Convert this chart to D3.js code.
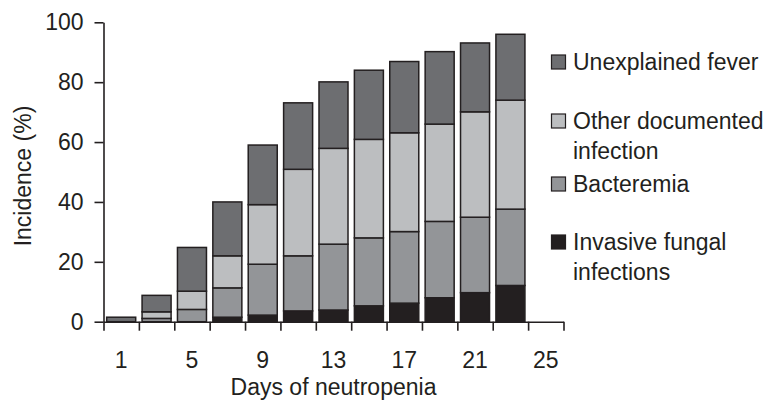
<!DOCTYPE html>
<html>
<head>
<meta charset="utf-8">
<script src="https://cdn.jsdelivr.net/npm/d3@7"></script>
<style>
  html, body { margin: 0; padding: 0; background: #ffffff; }
  svg { display: block; }
  text { font-family: "Liberation Sans", Arial, sans-serif; fill: #231f20; }
</style>
</head>
<body>
<svg id="chart" width="767" height="401"></svg>
<script>
// Days of neutropenia (one bar every other day; day 25 has no bar)
const days = [1, 3, 5, 7, 9, 11, 13, 15, 17, 19, 21, 23, 25];
const barDays = [1, 3, 5, 7, 9, 11, 13, 15, 17, 19, 21, 23];
const dayLabels = [1, 5, 9, 13, 17, 21, 25];

// Incidence (%) contributed by each cause, stacked bottom to top
const fungal     = [0,   0,   0,    1.5,  2.2,  3.6,  3.9,  5.3,  6.2,  8.0,  9.7,  12.1];
const bacteremia = [0,   1.1, 4.1,  9.8,  17.0, 18.4, 22.0, 22.7, 23.9, 25.5, 25.2, 25.5];
const otherInf   = [0,   2.2, 6.1,  10.7, 19.9, 28.9, 32.0, 32.9, 33.0, 32.5, 35.2, 36.4];
const fever      = [1.5, 5.5, 14.6, 18.0, 19.9, 22.2, 22.2, 23.1, 23.8, 24.2, 23.0, 22.0];

const yTicks = [0, 20, 40, 60, 80, 100];

const seriesKeys = ["fungal", "bacteremia", "other", "fever"];
const seriesColors = {
  fungal: "#231f20",
  bacteremia: "#939598",
  other: "#bcbec0",
  fever: "#6d6e71"
};
const legendItems = [
  { key: "fever", lines: ["Unexplained fever"], y: 62 },
  { key: "other", lines: ["Other documented", "infection"], y: 121 },
  { key: "bacteremia", lines: ["Bacteremia"], y: 184 },
  { key: "fungal", lines: ["Invasive fungal", "infections"], y: 242 }
];

const rows = barDays.map((d, i) => ({
  day: d,
  fungal: fungal[i],
  bacteremia: bacteremia[i],
  other: otherInf[i],
  fever: fever[i]
}));

const svg = d3.select("#chart");
const ink = "#231f20";
const fontSize = 23;

const x0 = 103.5, x1 = 563.5, yBottom = 321.7, yTop = 22.3;

const x = d3.scaleBand()
  .domain(days)
  .range([x0, x1])
  .paddingInner(0.18)
  .paddingOuter(0.09);

// continuous scale whose even values fall on the borders between day bands
const xEdge = d3.scaleLinear().domain([0, 26]).range([x0, x1]);

const y = d3.scaleLinear().domain([0, 100]).range([yBottom, yTop]);

const stacked = d3.stack().keys(seriesKeys)(rows);

// bars
const layers = svg.append("g").attr("class", "bars")
  .selectAll("g")
  .data(stacked)
  .join("g")
  .attr("fill", d => seriesColors[d.key]);

layers.selectAll("rect")
  .data(d => d.filter(s => s[1] - s[0] > 0))
  .join("rect")
  .attr("x", d => x(d.data.day))
  .attr("width", x.bandwidth())
  .attr("y", d => y(d[1]))
  .attr("height", d => y(d[0]) - y(d[1]))
  .attr("stroke", ink)
  .attr("stroke-width", 1.5);

// y axis
const yAxis = svg.append("g")
  .attr("transform", `translate(${x0},0)`)
  .call(d3.axisLeft(y).tickValues(yTicks).tickSize(9).tickSizeOuter(0).tickPadding(11));

// x axis: tick marks on band borders
const xTicksAxis = svg.append("g")
  .attr("transform", `translate(0,${yBottom})`)
  .call(d3.axisBottom(xEdge).tickValues(d3.range(0, 27, 2)).tickSize(9).tickSizeOuter(0).tickFormat(""));

// x axis: labels under band centres
const xLabelAxis = svg.append("g")
  .attr("transform", `translate(0,${yBottom})`)
  .call(d3.axisBottom(x).tickValues(dayLabels).tickSize(0).tickPadding(30));
xLabelAxis.select(".domain").remove();

[yAxis, xTicksAxis].forEach(g => {
  g.select(".domain").attr("stroke", ink).attr("stroke-width", 1.6);
  g.selectAll(".tick line").attr("stroke", ink).attr("stroke-width", 1.6);
});
[yAxis, xLabelAxis].forEach(g => {
  g.selectAll(".tick text")
    .attr("fill", ink)
    .style("font-family", '"Liberation Sans", Arial, sans-serif')
    .style("font-size", fontSize + "px");
});

// axis titles
svg.append("text")
  .attr("transform", `translate(31,${(yTop + yBottom) / 2 + 4}) rotate(-90)`)
  .attr("text-anchor", "middle")
  .style("font-size", fontSize + "px")
  .text("Incidence (%)");

svg.append("text")
  .attr("x", (x0 + x1) / 2)
  .attr("y", 395)
  .attr("text-anchor", "middle")
  .style("font-size", fontSize + "px")
  .text("Days of neutropenia");

// legend
const legend = svg.append("g").attr("class", "legend");
const entry = legend.selectAll("g")
  .data(legendItems)
  .join("g")
  .attr("transform", d => `translate(0,${d.y})`);

entry.append("rect")
  .attr("x", 551.5)
  .attr("y", -7)
  .attr("width", 14)
  .attr("height", 14)
  .attr("fill", d => seriesColors[d.key])
  .attr("stroke", ink)
  .attr("stroke-width", 1.2);

entry.each(function (d) {
  const t = d3.select(this).append("text")
    .attr("x", 573)
    .attr("y", 0)
    .style("font-size", fontSize + "px");
  d.lines.forEach((line, i) => {
    t.append("tspan")
      .attr("x", 573)
      .attr("y", i * 30)
      .attr("dy", "0.35em")
      .text(line);
  });
});
</script>
</body>
</html>
